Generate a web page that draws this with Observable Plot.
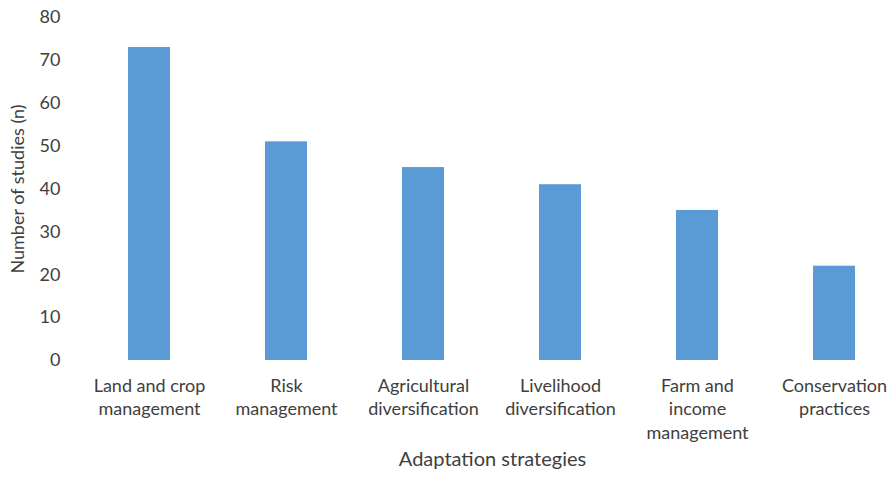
<!DOCTYPE html>
<html>
<head>
<meta charset="utf-8">
<script src="https://cdn.jsdelivr.net/npm/d3@7"></script>
<script src="https://cdn.jsdelivr.net/npm/@observablehq/plot@0.6"></script>
<style>
  html, body { margin: 0; padding: 0; background: #fff; }
  #chart { width: 894px; height: 478px; }
</style>
</head>
<body>
<div id="chart"></div>
<script>
const categories = [
  "Land and crop management",
  "Risk management",
  "Agricultural diversification",
  "Livelihood diversification",
  "Farm and income management",
  "Conservation practices"
];
const tickLabels = [
  "Land and crop\nmanagement",
  "Risk\nmanagement",
  "Agricultural\ndiversification",
  "Livelihood\ndiversification",
  "Farm and\nincome\nmanagement",
  "Conservation\npractices"
];
const values = [73, 51, 45, 41, 35, 22];
const yTicks = [0, 10, 20, 30, 40, 50, 60, 70, 80];
const xTitle = "Adaptation strategies";
const yTitle = "Number of studies (n)";

const data = categories.map((c, i) => ({category: c, value: values[i]}));
const labelOf = new Map(categories.map((c, i) => [c, tickLabels[i]]));

const font = "Lato, 'Open Sans', sans-serif";
const textColor = "#404040";

const chart = Plot.plot({
  width: 894,
  height: 478,
  marginTop: 17,
  marginBottom: 118,
  marginLeft: 80,
  marginRight: 0,
  style: {fontFamily: font, fontSize: "18px", color: textColor, background: "#fff"},
  x: {domain: categories, range: [80, 903.6], paddingInner: 0.69, paddingOuter: 0.345},
  y: {domain: [0, 80], range: [360, 17]},
  marks: [
    Plot.gridY(yTicks, {stroke: "#d9d9d9", strokeOpacity: 1, strokeWidth: 1.3, x1: 80, x2: 894}),
    Plot.barY(data, {x: "category", y: "value", fill: "#5b9bd5"}),
    Plot.axisY(yTicks, {
      tickSize: 0, tickPadding: 20, fontSize: 18, fill: textColor,
      label: yTitle, labelAnchor: "center", labelArrow: "none", labelOffset: 69
    }),
    Plot.axisX({
      tickSize: 0, tickPadding: 14, fontSize: 18, lineHeight: 1.33, fill: textColor,
      tickFormat: d => labelOf.get(d), label: null
    }),
    Plot.text([xTitle], {
      frameAnchor: "bottom", text: d => d, dy: 105, dx: 5, fontSize: 20, fill: textColor
    })
  ]
});
document.getElementById("chart").appendChild(chart);
</script>
</body>
</html>
